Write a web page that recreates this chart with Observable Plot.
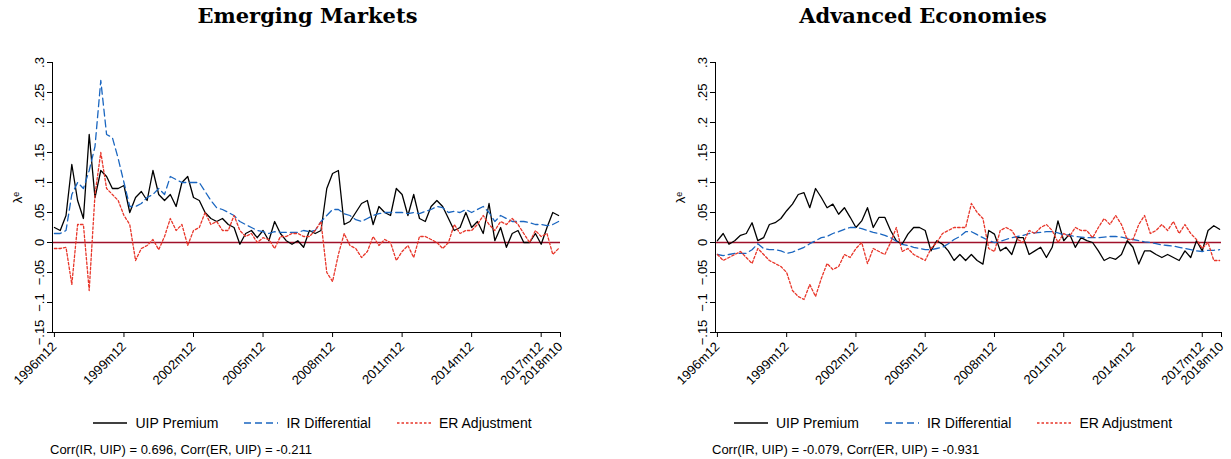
<!DOCTYPE html>
<html>
<head>
<meta charset="utf-8">
<script src="https://cdn.jsdelivr.net/npm/d3@7"></script>
<script src="https://cdn.jsdelivr.net/npm/@observablehq/plot@0.6"></script>
<style>
body { margin: 0; background: #fff; font-family: "Liberation Sans", Arial, sans-serif; }
#wrap { display: flex; width: 1231px; }
.col { position: relative; }
.title { font-family: "DejaVu Serif", serif; font-weight: bold; font-size: 21px; text-align: center; height: 35px; line-height: 32px; }
.legend { display: flex; justify-content: center; gap: 26px; font-size: 14px; height: 26px; align-items: center; }
.legend span { display: flex; align-items: center; gap: 8px; }
.caption { font-size: 13px; margin-top: 6px; }
</style>
</head>
<body>
<div id="wrap"></div>
<script>
// quarterly readings, months since 1996m12
const months = d3.range(0, 262, 3);
const tickMonths = [0, 36, 72, 108, 144, 180, 216, 252, 262];
const tickLabels = ["1996m12","1999m12","2002m12","2005m12","2008m12","2011m12","2014m12","2017m12","2018m10"];
const yTicks = [-0.15, -0.1, -0.05, 0, 0.05, 0.1, 0.15, 0.2, 0.25, 0.3];
const seriesNames = ["UIP Premium", "IR Differential", "ER Adjustment"];

const emUIP = [.025,.02,.045,.13,.07,.04,.18,.075,.12,.11,.09,.09,.095,.05,.075,.085,.07,.12,.08,.07,.08,.06,.10,.11,.075,.07,.05,.04,.035,.04,.03,.025,-.003,.015,.02,.008,.02,.003,.035,.015,.003,-.003,.003,-.008,
  .02,.015,.02,.09,.115,.12,.03,.035,.05,.065,.07,.03,.06,.05,.045,.09,.08,.045,.08,.04,.035,.06,.07,.06,.04,.02,.025,.05,.025,.035,.015,.065,.003,.025,-.008,.015,.02,0,0,.015,-.003,.025,.05,.045];
const emIR = [.015,.015,.02,.08,.10,.09,.12,.16,.27,.18,.175,.14,.10,.06,.06,.065,.075,.08,.09,.08,.11,.105,.10,.10,.10,.10,.085,.07,.058,.055,.05,.045,.035,.03,.025,.02,.018,.015,.018,.017,.017,.017,.017,.02,
  .018,.02,.035,.045,.055,.055,.048,.045,.038,.035,.04,.045,.048,.05,.05,.05,.05,.048,.05,.048,.052,.055,.06,.058,.05,.052,.05,.055,.05,.055,.06,.05,.035,.045,.04,.035,.035,.035,.033,.03,.03,.028,.03,.035];
const emER = [-.01,-.01,-.008,-.07,.03,.03,-.08,.08,.15,.09,.08,.07,.045,.03,-.03,-.01,-.005,.005,-.012,.01,.04,.02,.03,-.005,.02,.025,.05,.03,.035,.02,.02,.045,.02,.01,.015,0,.008,.005,-.01,.01,.01,.015,.015,.01,
  .01,.02,.035,-.05,-.065,-.02,.015,-.005,-.01,-.025,-.015,.01,-.005,.005,0,-.03,-.015,-.005,-.025,.01,.01,.005,0,-.01,0,.03,.015,.02,.02,.03,.045,.03,.02,.035,.03,.04,.03,.015,0,.02,.01,.015,-.02,-.01];

const aeUIP = [.003,.015,-.003,.003,.012,.015,.033,.003,.008,.03,.033,.04,.053,.064,.08,.083,.058,.09,.075,.058,.064,.047,.058,.042,.025,.036,.058,.025,.042,.042,.02,.003,-.003,.014,.025,.025,.02,-.014,.003,-.003,-.014,-.03,-.02,-.03,
  -.02,-.03,-.036,.02,.014,-.014,-.008,-.02,.008,.008,-.02,-.014,-.008,-.025,-.008,.036,.003,.014,-.008,.008,.003,0,-.014,-.03,-.025,-.028,-.02,.003,-.008,-.036,-.014,-.014,-.02,-.025,-.02,-.025,-.03,-.014,-.025,.003,-.014,.02,.028,.022];
const aeIR = [-.02,-.022,-.02,-.018,-.018,-.018,-.012,-.002,-.01,-.012,-.012,-.014,-.018,-.016,-.012,-.008,-.002,.003,.008,.01,.015,.018,.022,.025,.025,.023,.02,.017,.015,.012,.008,.002,-.003,-.005,-.008,-.01,-.012,-.012,-.01,-.008,-.002,.005,.01,.018,
  .018,.013,.008,.003,0,.002,.005,.008,.01,.012,.015,.016,.017,.018,.018,.016,.013,.012,.01,.009,.008,.008,.008,.009,.01,.01,.009,.007,.005,.003,.001,0,-.002,-.004,-.005,-.006,-.008,-.01,-.012,-.014,-.015,-.013,-.013,-.012];
const aeER = [-.02,-.03,-.025,-.02,-.015,-.025,-.035,-.01,-.02,-.03,-.035,-.04,-.05,-.08,-.09,-.095,-.07,-.09,-.06,-.035,-.045,-.04,-.02,-.025,-.01,0,-.035,-.01,-.015,-.02,0,.025,-.015,-.01,-.02,-.025,-.03,-.01,0,.015,.02,.025,.025,.025,
  .065,.05,.04,-.01,-.015,.02,.025,.02,.005,0,.02,.015,.025,.03,.02,0,.015,.01,.025,.02,.02,.008,.025,.04,.03,.045,.03,.005,.005,.03,.045,.015,.02,.03,.02,.035,.015,.03,.015,.005,-.01,0,-.03,-.03];

const panels = [
  {title: "Emerging Markets", series: [emUIP, emIR, emER], ml: 52, mr: 55, w: 615, cap: "Corr(IR, UIP) = 0.696, Corr(ER, UIP) = -0.211", capLeft: 50, legPad: 10},
  {title: "Advanced Economies", series: [aeUIP, aeIR, aeER], ml: 100, mr: 10, w: 616, cap: "Corr(IR, UIP) = -0.079, Corr(ER, UIP) = -0.931", capLeft: 97, legPad: 60}
];
const styles = [
  {stroke: "#000", dash: null, width: 1.3},
  {stroke: "#1a66c0", dash: "7,4", width: 1.3},
  {stroke: "#e8362a", dash: "2.5,2", width: 1.3}
];
const fmt = d => d === 0 ? "0" : d3.format(".2~f")(d).replace("0.", ".");

for (const p of panels) {
  const rows = [];
  p.series.forEach((vals, s) => vals.forEach((v, i) => rows.push({m: months[i], v, s: seriesNames[s]})));
  const chart = Plot.plot({
    width: p.w, height: 375,
    marginTop: 27, marginBottom: 78, marginLeft: p.ml, marginRight: p.mr,
    style: {fontFamily: "Liberation Sans, Arial, sans-serif", fontSize: "13px", color: "#000"},
    x: {domain: [-1, 262]},
    y: {domain: [-0.15, 0.3]},
    marks: [
      Plot.ruleY([0], {stroke: "#a0102a", strokeWidth: 1.3}),
      ...seriesNames.map((n, s) => Plot.line(rows.filter(r => r.s === n), {
        x: "m", y: "v", stroke: styles[s].stroke, strokeWidth: styles[s].width, strokeDasharray: styles[s].dash
      })),
      Plot.ruleX([-1], {stroke: "#000"}),
      Plot.ruleY([-0.15], {stroke: "#000"}),
      Plot.axisY({ticks: yTicks, tickFormat: fmt, tickRotate: -90, tickSize: 5, label: "λᵉ", labelAnchor: "center", labelArrow: "none", labelOffset: 40, fontSize: 13}),
      Plot.axisX({ticks: tickMonths, tickFormat: d => tickLabels[tickMonths.indexOf(d)], tickRotate: -45, tickSize: 5, label: null, fontSize: 13})
    ]
  });
  const col = d3.select("#wrap").append("div").attr("class", "col").style("width", p.w + "px");
  col.append("div").attr("class", "title").text(p.title);
  col.append(() => chart);
  const leg = col.append("div").attr("class", "legend").style("padding-left", p.legPad + "px");
  styles.forEach((st, s) => {
    const item = leg.append("span");
    const svg = item.append("svg").attr("width", 34).attr("height", 10);
    svg.append("line").attr("x1", 0).attr("x2", 34).attr("y1", 5).attr("y2", 5)
      .attr("stroke", st.stroke).attr("stroke-width", 1.3).attr("stroke-dasharray", st.dash);
    item.append("span").text(seriesNames[s]);
  });
  col.append("div").attr("class", "caption").style("padding-left", p.capLeft + "px").text(p.cap);
}
</script>
</body>
</html>
